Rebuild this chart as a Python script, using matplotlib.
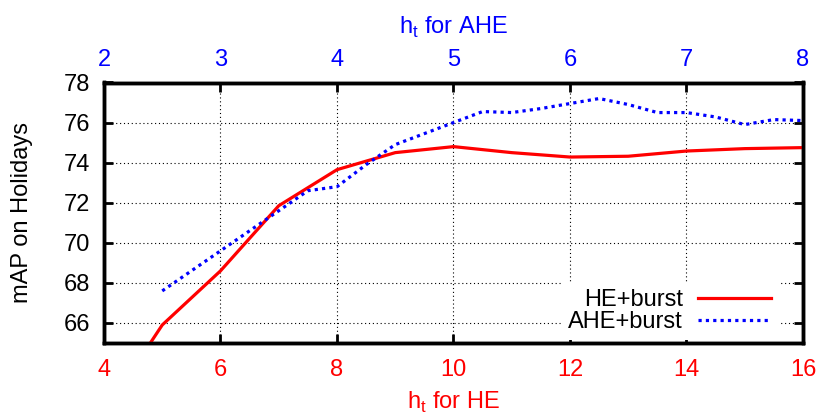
import matplotlib
matplotlib.use("Agg")
import matplotlib.pyplot as plt

plt.rcParams['font.family'] = ['Liberation Sans', 'DejaVu Sans']

# bottom axis (HE) values
he_x = [4, 5, 6, 7, 8, 9, 10, 11, 12, 13, 14, 15, 16]
he_map = [61.5, 65.9, 68.6, 71.85, 73.65, 74.5, 74.8, 74.5, 74.28, 74.32, 74.58, 74.7, 74.75]

# top axis (AHE) values
ahe_x = [2.5, 2.75, 3.0, 3.25, 3.5, 3.75, 4.0, 4.25, 4.5, 4.75, 5.0, 5.25,
         5.5, 5.75, 6.0, 6.25, 6.5, 6.75, 7.0, 7.25, 7.5, 7.75, 8.0]
ahe_map = [67.6, 68.6, 69.6, 70.6, 71.6, 72.6, 72.8, 73.9, 74.9, 75.45, 76.0, 76.55,
           76.5, 76.7, 76.95, 77.2, 76.9, 76.5, 76.5, 76.28, 75.9, 76.15, 76.1]

he_ticks = [4, 6, 8, 10, 12, 14, 16]
ahe_ticks = [2, 3, 4, 5, 6, 7, 8]
y_ticks = [66, 68, 70, 72, 74, 76, 78]

RED = '#ff0000'
BLUE = '#0000ff'
FS = 17

fig = plt.figure(figsize=(8.23, 4.17), dpi=100)
fig.subplots_adjust(left=104/823, right=803/823, top=1-82.5/417, bottom=1-343/417)
ax = fig.add_subplot(111)

ax.set_xlim(4, 16)
ax.set_ylim(65, 78)
ax.set_xticks(he_ticks)
ax.set_yticks(y_ticks)
ax.grid(True, color='black', linestyle=(0, (1, 2.5)), linewidth=0.8)
ax.set_axisbelow(True)

l1, = ax.plot(he_x, he_map, color=RED, linewidth=2.3, label='HE+burst', zorder=3)

ax.tick_params(axis='x', which='major', direction='in', top=False, bottom=True,
               length=6.5, width=2, labelsize=FS, labelcolor=RED, pad=11.5)
ax.tick_params(axis='y', which='major', direction='in', left=True, right=True,
               length=6.5, width=2, labelsize=FS, labelcolor='black', pad=10)
for s in ax.spines.values():
    s.set_linewidth(2.5)

ax.set_xlabel('h$_\\mathregular{t}$ for HE', fontsize=FS, color=RED, labelpad=6.5)
ax.set_ylabel('mAP on Holidays', fontsize=FS, color='black', labelpad=22)

ax2 = ax.twiny()
ax2.set_xlim(2, 8)
ax2.set_xticks(ahe_ticks)
l2, = ax2.plot(ahe_x, ahe_map, color=BLUE, linewidth=2.3,
               linestyle=(0, (1, 1.3)), dash_capstyle='butt', label='AHE+burst', zorder=3)
ax2.tick_params(axis='x', which='major', direction='in', top=True, bottom=False,
                length=6.5, width=2, labelsize=FS, labelcolor=BLUE, pad=8)
for s in ax2.spines.values():
    s.set_linewidth(2.5)
ax2.set_xlabel('h$_\\mathregular{t}$ for AHE', fontsize=FS, color=BLUE, labelpad=11)

leg = ax2.legend(handles=[l1, l2], loc='lower right', bbox_to_anchor=(0.965, 0.012),
                 markerfirst=False, frameon=True, fancybox=False, fontsize=FS,
                 handlelength=3.1, handletextpad=0.64, labelspacing=0.0,
                 borderpad=0.3, borderaxespad=0.0)
leg.get_frame().set_facecolor('white')
leg.get_frame().set_edgecolor('none')
leg.get_frame().set_alpha(1.0)

fig.savefig('out.png', dpi=100)
